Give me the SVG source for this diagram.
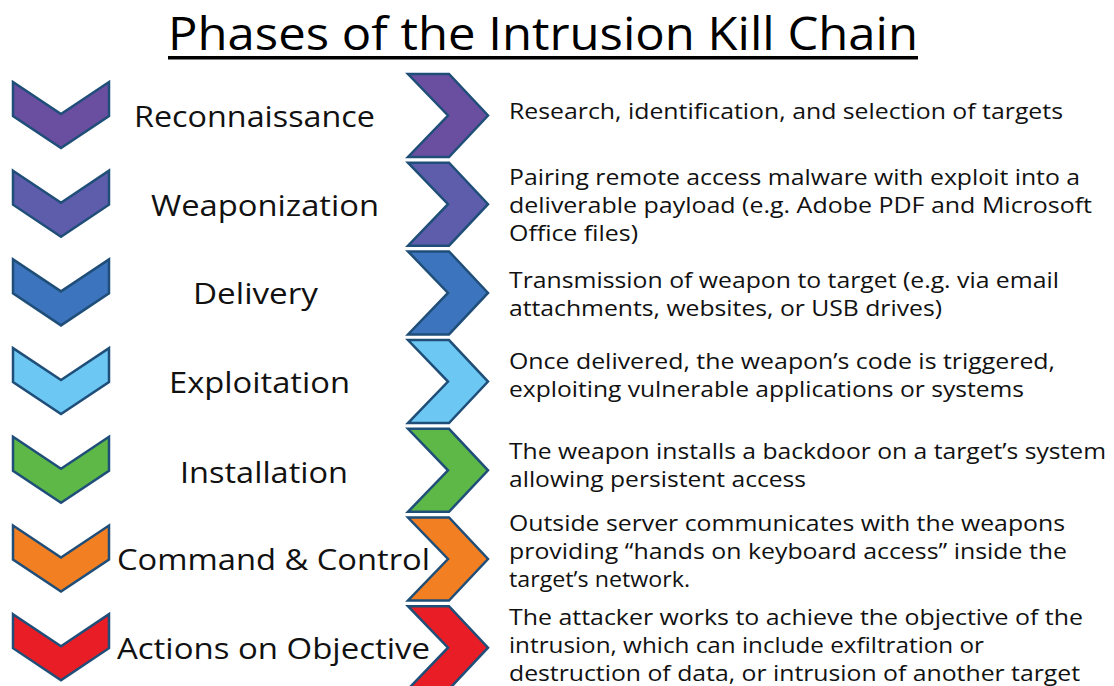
<svg xmlns="http://www.w3.org/2000/svg" xmlns:xlink="http://www.w3.org/1999/xlink" width="1114" height="686" viewBox="0 0 1114 686">
<style>
.chev{stroke:#1F4E79;stroke-width:2.5;stroke-linejoin:miter}
.title{font-family:"Open Sans","Noto Sans","Liberation Sans",sans-serif;font-size:46px;fill:#000}
.lbl{font-family:"Open Sans","Noto Sans","Liberation Sans",sans-serif;font-size:30px;fill:#111}
.desc{font-family:"Open Sans","Noto Sans","Liberation Sans",sans-serif;font-size:22px;fill:#111}
</style>
<defs>
<path id="down" d="M13,82 L61,114 L109,82 L109,116 L61,148 L13,116 Z"/>
<path id="right" d="M408,74 L449,74 L488,115.5 L449,157 L408,157 L448,115.5 Z"/>
</defs>
<rect width="1114" height="686" fill="#fff"/>
<g id="title">
<text class="title" x="168" y="50" textLength="750" lengthAdjust="spacingAndGlyphs">Phases of the Intrusion Kill Chain</text>
<rect x="168" y="56" width="750" height="3.5" fill="#000"/>
</g>
<g id="reconnaissance">
<use xlink:href="#down" class="chev" fill="#6A4FA0"/>
<text class="lbl" x="134" y="127" textLength="241" lengthAdjust="spacingAndGlyphs">Reconnaissance</text>
<use xlink:href="#right" class="chev" fill="#6A4FA0"/>
<text class="desc" x="509" y="119" textLength="554" lengthAdjust="spacingAndGlyphs">Research, identification, and selection of targets</text>
</g>
<g id="weaponization" transform="translate(0,88.7)">
<use xlink:href="#down" class="chev" fill="#5E5DAB"/>
<use xlink:href="#right" class="chev" fill="#5E5DAB"/>
</g>
<g id="weaponization-text">
<text class="lbl" x="151" y="216" textLength="228" lengthAdjust="spacingAndGlyphs">Weaponization</text>
<text class="desc" x="509" y="185" textLength="571" lengthAdjust="spacingAndGlyphs">Pairing remote access malware with exploit into a</text>
<text class="desc" x="509" y="213" textLength="583" lengthAdjust="spacingAndGlyphs">deliverable payload (e.g. Adobe PDF and Microsoft</text>
<text class="desc" x="509" y="241" textLength="129" lengthAdjust="spacingAndGlyphs">Office files)</text>
</g>
<g id="delivery" transform="translate(0,177.4)">
<use xlink:href="#down" class="chev" fill="#3C74BD"/>
<use xlink:href="#right" class="chev" fill="#3C74BD"/>
</g>
<g id="delivery-text">
<text class="lbl" x="193" y="304" textLength="125" lengthAdjust="spacingAndGlyphs">Delivery</text>
<text class="desc" x="509" y="288" textLength="550" lengthAdjust="spacingAndGlyphs">Transmission of weapon to target (e.g. via email</text>
<text class="desc" x="509" y="316" textLength="433" lengthAdjust="spacingAndGlyphs">attachments, websites, or USB drives)</text>
</g>
<g id="exploitation" transform="translate(0,266.1)">
<use xlink:href="#down" class="chev" fill="#6CC7F2"/>
<use xlink:href="#right" class="chev" fill="#6CC7F2"/>
</g>
<g id="exploitation-text">
<text class="lbl" x="169" y="393" textLength="181" lengthAdjust="spacingAndGlyphs">Exploitation</text>
<text class="desc" x="509" y="369" textLength="546" lengthAdjust="spacingAndGlyphs">Once delivered, the weapon’s code is triggered,</text>
<text class="desc" x="509" y="397" textLength="515" lengthAdjust="spacingAndGlyphs">exploiting vulnerable applications or systems</text>
</g>
<g id="installation" transform="translate(0,354.8)">
<use xlink:href="#down" class="chev" fill="#5DB848"/>
<use xlink:href="#right" class="chev" fill="#5DB848"/>
</g>
<g id="installation-text">
<text class="lbl" x="180" y="483" textLength="168" lengthAdjust="spacingAndGlyphs">Installation</text>
<text class="desc" x="509" y="459" textLength="597" lengthAdjust="spacingAndGlyphs">The weapon installs a backdoor on a target’s system</text>
<text class="desc" x="509" y="487" textLength="297" lengthAdjust="spacingAndGlyphs">allowing persistent access</text>
</g>
<g id="command-control" transform="translate(0,443.5)">
<use xlink:href="#down" class="chev" fill="#F28023"/>
<use xlink:href="#right" class="chev" fill="#F28023"/>
</g>
<g id="command-control-text">
<text class="lbl" x="117" y="570" textLength="313" lengthAdjust="spacingAndGlyphs">Command &amp; Control</text>
<text class="desc" x="509" y="531" textLength="556" lengthAdjust="spacingAndGlyphs">Outside server communicates with the weapons</text>
<text class="desc" x="509" y="559" textLength="558" lengthAdjust="spacingAndGlyphs">providing “hands on keyboard access” inside the</text>
<text class="desc" x="509" y="587" textLength="181" lengthAdjust="spacingAndGlyphs">target’s network.</text>
</g>
<g id="actions-on-objective" transform="translate(0,532.2)">
<use xlink:href="#down" class="chev" fill="#E91D25"/>
<use xlink:href="#right" class="chev" fill="#E91D25"/>
</g>
<g id="actions-on-objective-text">
<text class="lbl" x="117" y="659" textLength="313" lengthAdjust="spacingAndGlyphs">Actions on Objective</text>
<text class="desc" x="509" y="625" textLength="574" lengthAdjust="spacingAndGlyphs">The attacker works to achieve the objective of the</text>
<text class="desc" x="509" y="653" textLength="475" lengthAdjust="spacingAndGlyphs">intrusion, which can include exfiltration or</text>
<text class="desc" x="509" y="681" textLength="571" lengthAdjust="spacingAndGlyphs">destruction of data, or intrusion of another target</text>
</g>
</svg>
